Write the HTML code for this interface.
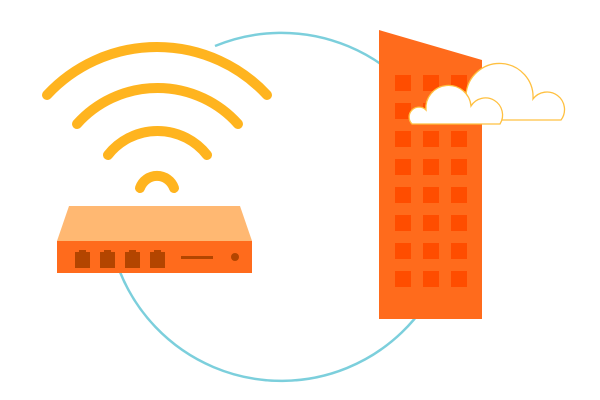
<!DOCTYPE html>
<html><head><style>html,body{margin:0;padding:0;background:#fff;}svg{display:block}</style></head>
<body>
<svg width="600" height="400" viewBox="0 0 600 400" xmlns="http://www.w3.org/2000/svg">
<path d="M120,272 A174,174 0 1 0 215,46" fill="none" stroke="#7ccfdc" stroke-width="2.5"/>
<g fill="none" stroke="#ffb41f" stroke-width="10" stroke-linecap="round">
<path d="M47,95 A150,150 0 0 1 267,95"/>
<path d="M77,124 A108,108 0 0 1 238,124"/>
<path d="M108,155 A63,63 0 0 1 207,155"/>
<path d="M140,188 A18,18 0 0 1 174,188"/>
</g>
<polygon points="69,206 240,206 252,241 57,241" fill="#ffb872"/>
<rect x="57" y="241" width="195" height="32" fill="#ff6b1c"/>
<g fill="#b34500">
<path d="M75,252 h4 v-2 h7 v2 h4 v16 h-15z"/>
<path d="M100,252 h4 v-2 h7 v2 h4 v16 h-15z"/>
<path d="M125,252 h4 v-2 h7 v2 h4 v16 h-15z"/>
<path d="M150,252 h4 v-2 h7 v2 h4 v16 h-15z"/>
<rect x="181" y="256" width="32" height="3"/>
<circle cx="235" cy="257" r="4"/>
</g>
<polygon points="379,30 482,60 482,319 379,319" fill="#ff6b1c"/>
<g fill="#ff4d00">
<rect x="395" y="75" width="16" height="16"/><rect x="423" y="75" width="16" height="16"/><rect x="451" y="75" width="16" height="16"/>
<rect x="395" y="103" width="16" height="16"/><rect x="423" y="103" width="16" height="16"/><rect x="451" y="103" width="16" height="16"/>
<rect x="395" y="131" width="16" height="16"/><rect x="423" y="131" width="16" height="16"/><rect x="451" y="131" width="16" height="16"/>
<rect x="395" y="159" width="16" height="16"/><rect x="423" y="159" width="16" height="16"/><rect x="451" y="159" width="16" height="16"/>
<rect x="395" y="187" width="16" height="16"/><rect x="423" y="187" width="16" height="16"/><rect x="451" y="187" width="16" height="16"/>
<rect x="395" y="215" width="16" height="16"/><rect x="423" y="215" width="16" height="16"/><rect x="451" y="215" width="16" height="16"/>
<rect x="395" y="243" width="16" height="16"/><rect x="423" y="243" width="16" height="16"/><rect x="451" y="243" width="16" height="16"/>
<rect x="395" y="271" width="16" height="16"/><rect x="423" y="271" width="16" height="16"/><rect x="451" y="271" width="16" height="16"/>
</g>
<path d="M468,120 A6,6 0 0 1 466,95 A30,30 0 0 1 533,99 A16,16 0 0 1 561,120 Z" fill="#fff" stroke="#ffc040" stroke-width="1.3"/>
<path d="M412,124 A9,9 0 0 1 426,110 A22,22 0 0 1 471,106 A14,14 0 0 1 500,124 Z" fill="#fff" stroke="#ffc040" stroke-width="1.3"/>
</svg>
</body></html>
